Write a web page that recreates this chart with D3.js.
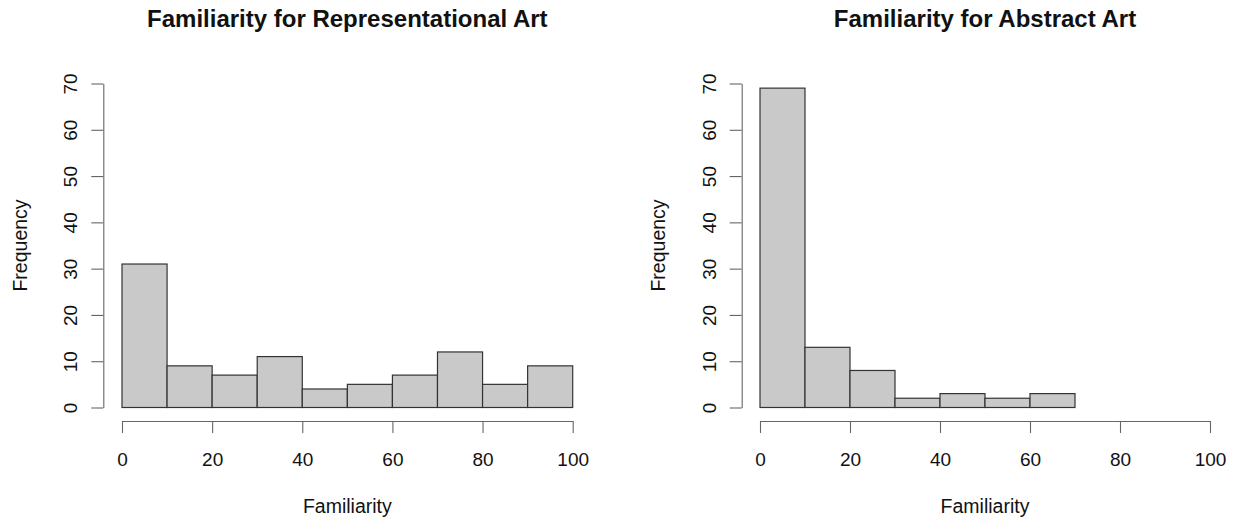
<!DOCTYPE html>
<html>
<head>
<meta charset="utf-8">
<script src="https://cdn.jsdelivr.net/npm/d3@7"></script>
<style>
  html, body { margin: 0; padding: 0; background: #fff; }
  svg { display: block; }
  text { font-family: "Liberation Sans", Arial, Helvetica, sans-serif; fill: #111; }
</style>
</head>
<body>
<svg id="chart" width="1237" height="521"></svg>
<script>
// Histogram bin edges (Familiarity score, width 10)
const binEdges = [0, 10, 20, 30, 40, 50, 60, 70, 80, 90, 100];

// Counts per bin
const representationalCounts = [31, 9, 7, 11, 4, 5, 7, 12, 5, 9];
const abstractCounts = [69, 13, 8, 2, 3, 2, 3];

// Axis ticks
const xTicks = [0, 20, 40, 60, 80, 100];
const yTicks = [0, 10, 20, 30, 40, 50, 60, 70];

const titles = ["Familiarity for Representational Art", "Familiarity for Abstract Art"];
const xLabel = "Familiarity";
const yLabel = "Frequency";

const svg = d3.select("#chart");

const panels = [
  { title: titles[0], counts: representationalCounts, x0: 122, x1: 572.7, yAxisX: 103.3 },
  { title: titles[1], counts: abstractCounts, x0: 760, x1: 1210, yAxisX: 741.7 }
];

const yBottom = 407.5, yTop = 83.5, xAxisY = 421;

panels.forEach(p => {
  const g = svg.append("g");
  const x = d3.scaleLinear().domain([0, 100]).range([p.x0, p.x1]);
  const y = d3.scaleLinear().domain([0, 70]).range([yBottom, yTop]);

  // bars
  g.selectAll("rect.bar")
    .data(p.counts)
    .enter().append("rect")
    .attr("class", "bar")
    .attr("x", (d, i) => x(binEdges[i]))
    .attr("width", (d, i) => x(binEdges[i + 1]) - x(binEdges[i]))
    .attr("y", d => y(d))
    .attr("height", d => y(0) - y(d))
    .attr("fill", "#c9c9c9")
    .attr("stroke", "#333")
    .attr("stroke-width", 1.2);

  // x axis
  const gx = g.append("g")
    .attr("transform", `translate(0,${xAxisY})`)
    .call(d3.axisBottom(x).tickValues(xTicks).tickSize(12).tickSizeOuter(0).tickFormat(d3.format("d")));
  gx.selectAll("path.domain, line").attr("stroke", "#666").attr("stroke-width", 1.1);
  gx.selectAll("text")
    .attr("y", 45).attr("dy", 0)
    .style("font-size", "19px").attr("fill", "#111");

  // y axis
  const gy = g.append("g")
    .attr("transform", `translate(${p.yAxisX},0)`)
    .call(d3.axisLeft(y).tickValues(yTicks).tickSize(12).tickSizeOuter(0).tickFormat(d3.format("d")));
  gy.selectAll("path.domain, line").attr("stroke", "#666").attr("stroke-width", 1.1);
  gy.selectAll("text")
    .attr("x", 0).attr("y", 0).attr("dy", 0)
    .attr("text-anchor", "middle")
    .attr("transform", "translate(-26,0) rotate(-90)")
    .style("font-size", "19px").attr("fill", "#111");

  // title
  g.append("text")
    .attr("x", (p.x0 + p.x1) / 2)
    .attr("y", 27)
    .attr("text-anchor", "middle")
    .style("font-size", "24px")
    .style("font-weight", "bold")
    .text(p.title);

  // x label
  g.append("text")
    .attr("x", (p.x0 + p.x1) / 2)
    .attr("y", 513)
    .attr("text-anchor", "middle")
    .style("font-size", "19.5px")
    .text(xLabel);

  // y label
  g.append("text")
    .attr("transform", `translate(${p.yAxisX - 76.7},${(yBottom + yTop) / 2}) rotate(-90)`)
    .attr("text-anchor", "middle")
    .style("font-size", "19.5px")
    .text(yLabel);
});
</script>
</body>
</html>
